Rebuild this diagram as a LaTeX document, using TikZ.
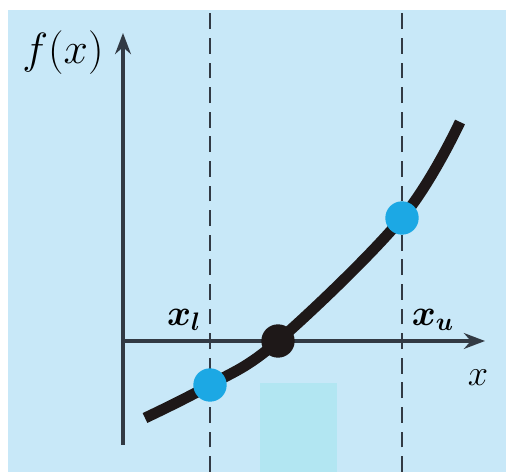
\documentclass[tikz,border=0pt]{standalone}
\usetikzlibrary{arrows.meta}
\definecolor{bgblue}{RGB}{200,232,248}
\definecolor{dotblue}{RGB}{28,168,228}
\definecolor{boxcyan}{RGB}{178,230,242}
\definecolor{axisgray}{RGB}{50,58,68}
\definecolor{curveblack}{RGB}{30,24,24}

\begin{document}
\begin{tikzpicture}[
        x=0.02cm, y=0.02cm,
        axis/.style={
            line width=1.8pt,
            draw=axisgray,
            -{Stealth[length=12pt,width=9pt]}
        },
        guide/.style={
            line width=1.6pt,
            draw=axisgray,
            dash pattern=on 9pt off 5pt
        },
        curve/.style={
            line width=6.2pt,
            draw=curveblack
        },
        enddot/.style={
            circle,
            fill=dotblue,
            minimum size=19pt,
            inner sep=0pt
        },
        rootdot/.style={
            circle,
            fill=curveblack,
            minimum size=19pt,
            inner sep=0pt
        },
        lbl/.style={
            font=\fontsize{20}{24}\selectfont,
            inner sep=0pt
        },
        boldlbl/.style={
            font=\fontsize{20}{24}\selectfont\boldmath,
            inner sep=0pt
        }
    ]

    % Fond
    \useasboundingbox (0,0) rectangle (506,472);
    \fill[bgblue] (8,0) rectangle (506,462);
    \fill[boxcyan] (260,0) rectangle (337,89);

    % Axes
    \coordinate (O) at (123,131);
    \coordinate (ytop) at (123,439);
    \coordinate (ybot) at (123,27);
    \coordinate (xright) at (485,131);
    \draw[axis] (ybot) -- (ytop);
    \draw[axis] (O) -- (xright);

    % Bornes
    \coordinate (lbot) at (210,0);
    \coordinate (ltop) at (210,464);
    \coordinate (ubot) at (402,0);
    \coordinate (utop) at (402,464);
    \draw[guide] (lbot) -- (ltop);
    \draw[guide] (ubot) -- (utop);

    % Courbe
    \coordinate (c0) at (145,54);
    \coordinate (c1) at (210,87);
    \coordinate (c2) at (278,131);
    \coordinate (c3) at (402,254);
    \coordinate (c4) at (460,350);
    \draw[curve, line cap=butt] plot[smooth, tension=0.6] coordinates {(c0) (c1) (c2) (c3) (c4)};

    % Points
    \node[enddot] (xl) at (c1) {};
    \node[rootdot] (xr) at (c2) {};
    \node[enddot] (xu) at (c3) {};

    % Etiquettes
    \node[lbl, font=\fontsize{25}{30}\selectfont] (fx) at (63,419) {$f(x)$};
    \node[boldlbl] (lblxl) at (184,152) {$x_l$};
    \node[boldlbl] (lblxu) at (433,152) {$x_u$};
    \node[lbl, font=\fontsize{22}{26}\selectfont] (lblx) at (478,94) {$x$};

\end{tikzpicture}
\end{document}
